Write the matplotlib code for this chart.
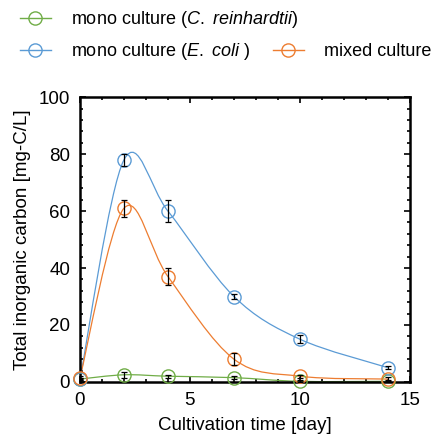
import numpy as np
import matplotlib.pyplot as plt
from matplotlib.path import Path
from matplotlib.patches import PathPatch
from matplotlib.lines import Line2D
from matplotlib.ticker import MultipleLocator

plt.rcParams["font.family"] = ["Liberation Sans", "DejaVu Sans"]
plt.rcParams["mathtext.fontset"] = "custom"
plt.rcParams["mathtext.rm"] = "Liberation Sans"
plt.rcParams["mathtext.it"] = "Liberation Sans:italic"

# --------------------------------------------------
# Data
# --------------------------------------------------
days = [0, 2, 4, 7, 10, 14]

chlamy = [1.0, 2.5, 2.0, 1.5, 0.2, 0.2]
chlamy_err = [0.5, 1.0, 0.6, 0.5, 0.3, 0.3]

ecoli = [1.0, 78.0, 60.0, 30.0, 15.0, 5.0]
ecoli_err = [0.5, 2.0, 4.0, 1.0, 1.5, 0.6]

mixed = [1.5, 61.0, 37.0, 8.0, 2.0, 1.0]
mixed_err = [0.5, 3.0, 3.0, 2.0, 0.6, 0.6]

GREEN = "#70AD47"
BLUE = "#5B9BD5"
ORANGE = "#ED7D31"
FS = 13.5
LEG_FS = 13


def smooth_path(x, y):
    # Excel-style smoothed line: cubic Bezier segments through the points
    p = np.column_stack([x, y]).astype(float)
    n = len(p)
    verts = [p[0]]
    codes = [Path.MOVETO]
    for i in range(n - 1):
        prev = p[i - 1] if i > 0 else p[i]
        nxt = p[i + 2] if i + 2 < n else p[i + 1]
        c1 = p[i] + (p[i + 1] - prev) / 6.0
        c2 = p[i + 1] - (nxt - p[i]) / 6.0
        verts += [c1, c2, p[i + 1]]
        codes += [Path.CURVE4] * 3
    return Path(verts, codes)


fig = plt.figure(figsize=(4.37, 4.34), dpi=100)
ax = fig.add_axes([0.183, 0.12, 0.755, 0.656])

for y, err, col in [(chlamy, chlamy_err, GREEN), (ecoli, ecoli_err, BLUE),
                    (mixed, mixed_err, ORANGE)]:
    ax.add_patch(PathPatch(smooth_path(days, y), fill=False, edgecolor=col,
                           lw=0.9, zorder=2))
    ax.plot(days, y, "o", ms=9.5, mfc="none", mec=col, mew=1.0, zorder=3,
            clip_on=False)
    ax.errorbar(days, y, yerr=err, fmt="none", ecolor="black", elinewidth=0.9,
                capsize=2.5, capthick=0.9, zorder=4)

ax.set_xlim(0, 15)
ax.set_ylim(0, 100)
ax.xaxis.set_major_locator(MultipleLocator(5))
ax.xaxis.set_minor_locator(MultipleLocator(1))
ax.yaxis.set_major_locator(MultipleLocator(20))
ax.yaxis.set_minor_locator(MultipleLocator(4))
ax.tick_params(which="both", direction="in", top=True, right=True,
               labelsize=FS, width=1.2)
ax.tick_params(which="major", length=4, pad=7)
ax.tick_params(which="minor", length=2.5)
for s in ax.spines.values():
    s.set_linewidth(1.8)

ax.set_xlabel("Cultivation time [day]", fontsize=FS, labelpad=6)
ax.set_ylabel("Total inorganic carbon [mg-C/L]", fontsize=FS, labelpad=6)


def handle(col):
    return Line2D([], [], color=col, lw=1.0, marker="o", ms=9.5, mfc="none",
                  mec=col, mew=1.0)


leg1 = fig.legend([handle(GREEN)], [r"mono culture ($\it{C.\ reinhardtii}$)"],
                  loc="center left", bbox_to_anchor=(20 / 437, 1 - 20 / 434),
                  frameon=False, fontsize=LEG_FS, handlelength=1.7,
                  handletextpad=1.1, borderpad=0, borderaxespad=0)
leg2 = fig.legend([handle(BLUE), handle(ORANGE)],
                  [r"mono culture ($\it{E.\ coli}$ )", "mixed culture"],
                  loc="center left", bbox_to_anchor=(20 / 437, 1 - 52 / 434),
                  frameon=False, ncol=2, fontsize=LEG_FS, handlelength=1.7,
                  handletextpad=1.1, columnspacing=1.3, borderpad=0,
                  borderaxespad=0)

fig.savefig("out.png", dpi=100)
